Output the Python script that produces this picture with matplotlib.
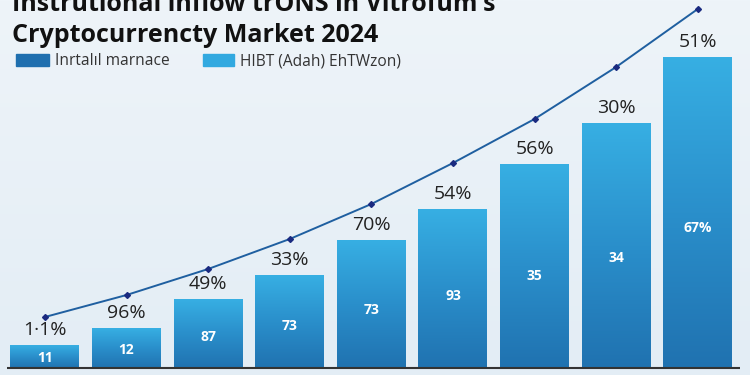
import numpy as np
import matplotlib
matplotlib.use("Agg")
import matplotlib.pyplot as plt
from matplotlib.colors import LinearSegmentedColormap
from matplotlib.patches import Rectangle

# ---- data ----
categories = list(range(9))
bar_values = [23, 40, 69, 93, 128, 159, 204, 245, 311]
line_values = [51, 73, 99, 129, 164, 205, 249, 301, 359]
top_labels = ["1·1%", "96%", "49%", "33%", "70%", "54%", "56%", "30%", "51%"]
inner_labels = ["11", "12", "87", "73", "73", "93", "35", "34", "67%"]
title_lines = ["Instrutional inflow trONS in Vitrofum's", "Cryptocurrencty Market 2024"]
legend_labels = ["Inrtalıl marnace", "HIBT (Adah) EhTWzon)"]

plt.rcParams['font.family'] = ['Open Sans', 'DejaVu Sans']

BG = '#eaf1f7'
fig = plt.figure(figsize=(7.5, 3.75), dpi=100, facecolor=BG)
ax = fig.add_axes([0, 0, 1, 1])
ax.set_facecolor(BG)
ax.set_xlim(-0.551, 8.64)
ax.set_ylim(-7, 368)
ax.axis('off')

# background soft gradient
bg = np.linspace(0, 1, 256).reshape(-1, 1)
bgcmap = LinearSegmentedColormap.from_list('bg', ['#e3edf5', '#eef4f9'])
ax.imshow(bg, extent=[-0.551, 8.64, -7, 368], aspect='auto', cmap=bgcmap,
          origin='lower', zorder=0)

width = 0.845
cmap = LinearSegmentedColormap.from_list('bar', ['#2072b0', '#2a8fcb', '#37afe3'])
grad = np.linspace(0, 1, 256).reshape(-1, 1)
bars = ax.bar(categories, bar_values, width=width, color='none', zorder=2)
for b in bars:
    x0, y0 = b.get_x(), b.get_y()
    w, h = b.get_width(), b.get_height()
    im = ax.imshow(grad, extent=[x0, x0 + w, y0, y0 + h], aspect='auto',
                   cmap=cmap, origin='lower', zorder=2)
    clip = Rectangle((x0, y0), w, h, transform=ax.transData)
    im.set_clip_path(clip)

for i, (v, t, it) in enumerate(zip(bar_values, top_labels, inner_labels)):
    ax.annotate(t, (i, v), xytext=(0, 4), textcoords='offset points',
                ha='center', va='bottom', fontsize=14, color='#222222', zorder=4)
    ax.text(i, v * 0.45, it, ha='center', va='center', fontsize=10,
            fontweight='bold', color='white', zorder=4)

ax.plot(categories, line_values, color='#1f5fa0', lw=1.4, zorder=3)
ax.plot(categories, line_values, 'D', color='#1a2a80', ms=3, zorder=3)

# baseline
ax.plot([-0.46, 8.52], [0, 0], color='#333333', lw=1.5, zorder=3, solid_capstyle='butt')

# title
fig.text(12 / 750, 1 - 11 / 375, title_lines[0], fontsize=18, fontweight='bold',
         color='#111111', ha='left', va='baseline')
fig.text(12 / 750, 1 - 42 / 375, title_lines[1], fontsize=18, fontweight='bold',
         color='#111111', ha='left', va='baseline')

# legend
fig.patches.append(Rectangle((16 / 750, 1 - 66 / 375), 33 / 750, 12 / 375,
                             transform=fig.transFigure, color='#1f6faf'))
fig.text(55 / 750, 1 - 61 / 375, legend_labels[0], fontsize=11.2, color='#333333',
         ha='left', va='center')
fig.patches.append(Rectangle((203 / 750, 1 - 66 / 375), 31 / 750, 12 / 375,
                             transform=fig.transFigure, color='#32a9e0'))
fig.text(240 / 750, 1 - 61 / 375, legend_labels[1], fontsize=11.2, color='#333333',
         ha='left', va='center')

fig.savefig('out.png', dpi=100, facecolor=BG)
